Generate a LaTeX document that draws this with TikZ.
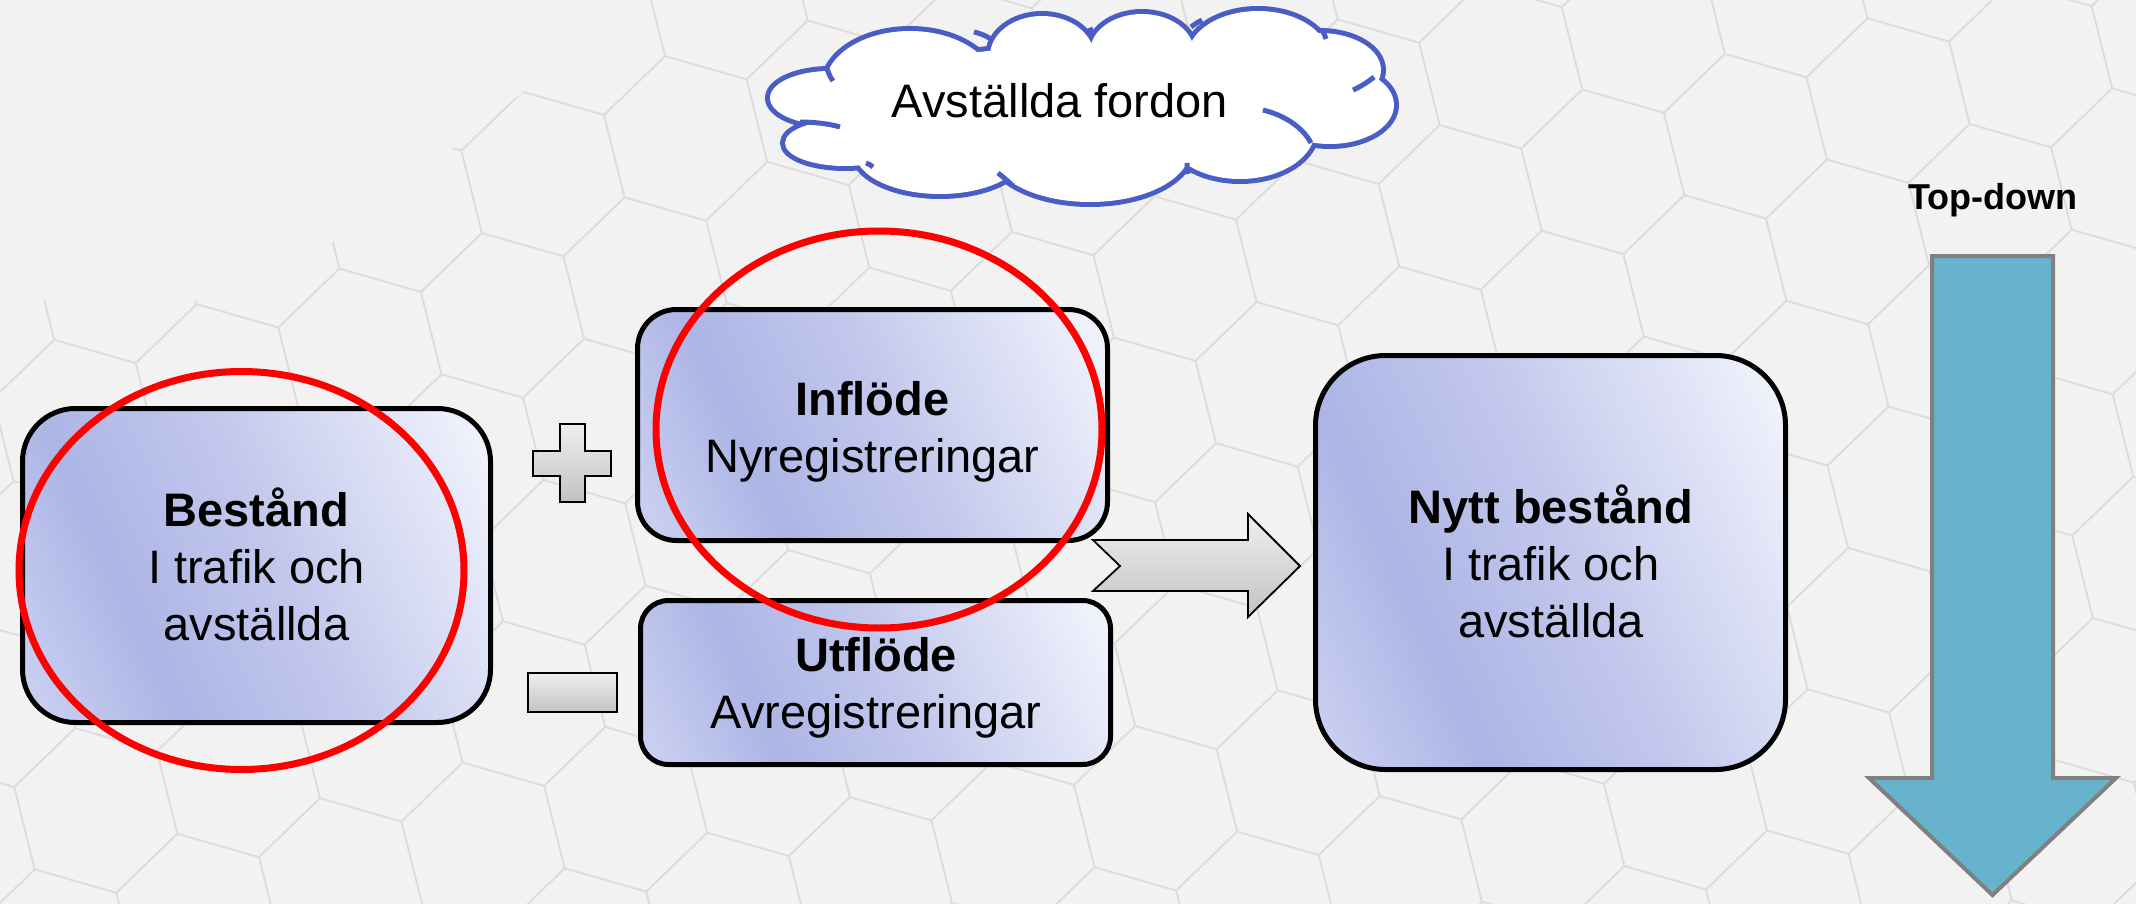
\documentclass[tikz,border=0pt]{standalone}
\usepackage{fontspec}
\setmainfont{Liberation Sans}
\usetikzlibrary{shapes.geometric,calc}

\definecolor{bg}{HTML}{F2F2F2}
\definecolor{hexline}{HTML}{DDDDDD}
\definecolor{boxA}{HTML}{C8CEF0}
\definecolor{boxB}{HTML}{ADB5E5}
\definecolor{boxM}{HTML}{C1C7EC}
\definecolor{boxC}{HTML}{EFF1FB}
\definecolor{cloudblue}{HTML}{4A5DC4}
\definecolor{tdblue}{HTML}{67B3CD}
\definecolor{tdgray}{HTML}{808080}
\definecolor{grayA}{HTML}{EFEFEF}
\definecolor{grayB}{HTML}{C2C2C2}
\definecolor{ringred}{HTML}{FF0000}

\pgfdeclarehorizontalshading{boxshade}{100bp}{color(0bp)=(boxA); color(20bp)=(boxA); color(34bp)=(boxB); color(52bp)=(boxM); color(80bp)=(boxC); color(100bp)=(boxC)}

\tikzset{
  flowbox/.style={draw=black, line width=5, shading=boxshade, shading angle=25, inner sep=0},
  lbl/.style={align=center, inner sep=0, font=\fontsize{47}{57}\selectfont},
  ring/.style={ellipse, draw=ringred, line width=7, inner sep=0},
  hexedge/.style={draw=hexline, line width=1.6},
  greyshape/.style={draw=black, line width=1.8, top color=grayA, bottom color=grayB, line join=miter},
  hook/.style={draw=cloudblue, line width=5, line cap=butt},
}

\newcommand{\puffs}[1]{%
  \path[#1] (830,98) ellipse [x radius=60, y radius=27];
  \path[#1] (845,143) ellipse [x radius=60, y radius=23];
  \path[#1] (940,152) ellipse [x radius=85, y radius=42];
  \path[#1] (1090,150) ellipse [x radius=100, y radius=52];
  \path[#1] (1240,130) ellipse [x radius=75, y radius=49];
  \path[#1] (1330,105) ellipse [x radius=64, y radius=39];
  \path[#1] (1320,70) ellipse [x radius=61, y radius=37];
  \path[#1] (1258,56) ellipse [x radius=70, y radius=45];
  \path[#1] (1142,52) ellipse [x radius=52, y radius=38];
  \path[#1] (1042,56) ellipse [x radius=52, y radius=40];
  \path[#1] (910,86) ellipse [x radius=85, y radius=55];
  \path[#1] (1083,108) ellipse [x radius=240, y radius=62];
}

\begin{document}
\begin{tikzpicture}[x=1pt, y=-1pt]
\useasboundingbox (0,0) rectangle (2136,904);
\fill[bg] (0,0) rectangle (2136,904);

% background hexagon texture
\begin{scope}
\clip (640,0) -- (2136,0) -- (2136,904) -- (0,904) -- (0,300) -- (260,300) -- cycle;
\foreach \i in {-6,...,15}{
  \foreach \j in {-11,...,9}{
    \pgfmathsetmacro\cx{543+102.1*\i-40.5*\j}
    \pgfmathsetmacro\cy{174+105.7*\i+141.3*\j}
    \draw[hexedge, shift={(\cx,\cy)}] (16:85) -- (76:85) -- (136:85) -- (196:85) -- (256:85) -- (316:85) -- cycle;
  }
}
\end{scope}

% cloud: outline from the union of puffs
\puffs{draw=cloudblue, line width=10}
\puffs{fill=white}
\draw[hook] (800,122) .. controls (815,122) and (830,124) .. (840,127);
\draw[hook] (826,66) .. controls (828,72) and (830,77) .. (833,81);
\draw[hook] (866,163) .. controls (869,164) and (871,165) .. (873,167);
\draw[hook] (998,173) .. controls (1003,177) and (1008,181) .. (1013,186);
\draw[hook] (974,32) .. controls (982,34) and (987,36) .. (992,40);
\draw[hook] (1085,33) .. controls (1088,31) and (1090,30) .. (1093,29);
\draw[hook] (1202,20) .. controls (1198,22) and (1195,24) .. (1191,27);
\draw[hook] (1322,30) .. controls (1324,33) and (1325,36) .. (1326,39);
\draw[hook] (1353,90) .. controls (1360,87) and (1368,82) .. (1374,77);
\draw[hook] (1263,110) .. controls (1283,115) and (1302,126) .. (1311,143);
\draw[hook] (1187,163) .. controls (1187,166) and (1187,170) .. (1188,174);
\node[lbl, anchor=base] (cloudtxt) at (1060,118) {Avställda fordon};

% boxes
\node[flowbox, rounded corners=53, minimum width=468, minimum height=314] (best) at (256.5,565.5) {};
\node[flowbox, rounded corners=39, minimum width=470, minimum height=231] (infl) at (872.5,425) {};
\node[flowbox, rounded corners=28, minimum width=470, minimum height=164] (utfl) at (875.5,682.5) {};
\node[flowbox, rounded corners=70, minimum width=470, minimum height=414] (nytt) at (1550.5,562.5) {};

% texts (anchor base = baseline of the last line)
\node[lbl, anchor=base] (besttxt) at (256.5,640) {\textbf{Bestånd}\\I trafik och\\avställda};
\node[lbl, anchor=base] (infltxt) at (872.5,472) {\textbf{Inflöde}\\Nyregistreringar};
\node[lbl, anchor=base] (utfltxt) at (876,728) {\textbf{Utflöde}\\Avregistreringar};
\node[lbl, anchor=base] (nytttxt) at (1551,637) {\textbf{Nytt bestånd}\\I trafik och\\avställda};

% plus and minus
\path[greyshape] (560,424) -- (585,424) -- (585,451) -- (611,451) -- (611,476) -- (585,476)
  -- (585,502) -- (560,502) -- (560,476) -- (533,476) -- (533,451) -- (560,451) -- cycle;
\path[greyshape] (528,673) rectangle (617,712);

% grey arrow
\path[greyshape] (1093,540) -- (1248,540) -- (1248,514) -- (1300,566) -- (1248,617)
  -- (1248,591) -- (1093,591) -- (1120,566) -- cycle;

% red rings
\node[ring, minimum width=445, minimum height=398] (ring1) at (241.5,570.5) {};
\node[ring, minimum width=446, minimum height=397] (ring2) at (879,429.5) {};

% top-down
\node[font=\bfseries\fontsize{36}{43}\selectfont, inner sep=0, anchor=base] (tdtxt) at (1993,210) {Top-down};
\path[draw=tdgray, fill=tdblue, line width=4, line join=miter]
  (1932,256) -- (2053,256) -- (2053,778) -- (2116,778) -- (1992.5,895) -- (1869,778) -- (1932,778) -- cycle;
\end{tikzpicture}
\end{document}
